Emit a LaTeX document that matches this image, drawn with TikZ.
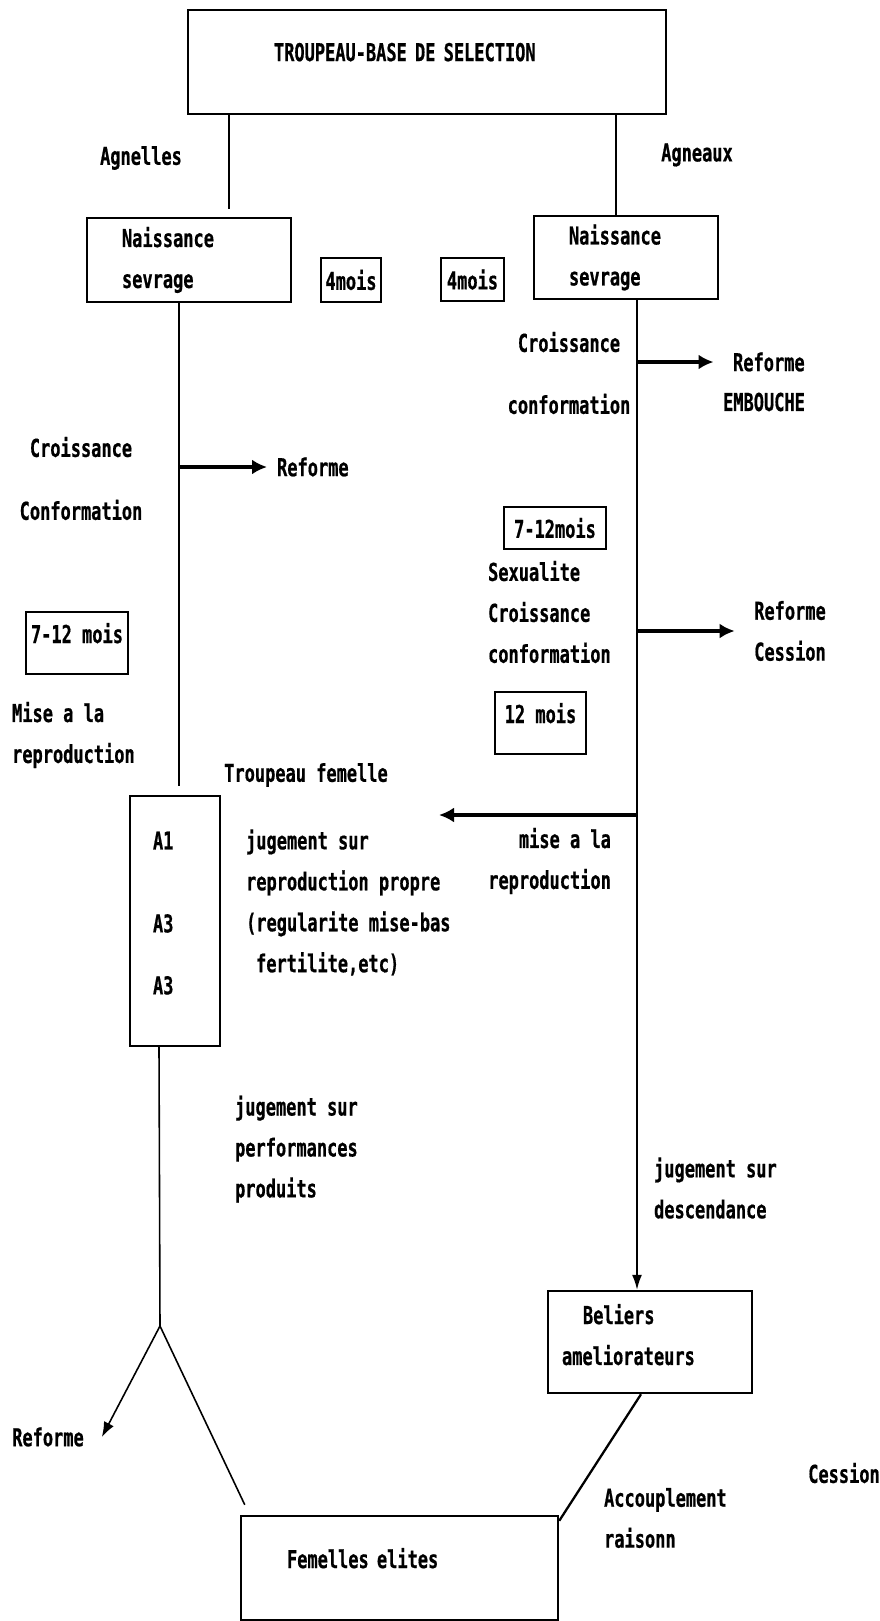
\documentclass[tikz,border=0pt]{standalone}
\usepackage{fontspec}
\newfontfamily\machine{DejaVu Sans Mono}[FakeStretch=0.69,FakeBold=0.6]
\usetikzlibrary{arrows.meta}

\begin{document}
\begin{tikzpicture}[>={Latex[length=0.3cm,width=0.3cm]},every node/.style={font=\machine\bfseries\fontsize{14pt}{23.3pt}\selectfont}]
  \tikzstyle{box}=[draw,line width=1.4pt,inner sep=0pt,align=left]
  \tikzstyle{txt}=[inner sep=1pt,align=left]
  \tikzstyle{lien}=[line width=0.9pt]
  \tikzstyle{fleche}=[line width=1.8pt,->]
  \useasboundingbox (0,0) rectangle (17.58,-32.42);
  \node[box,minimum width=9.56cm,minimum height=2.08cm,inner xsep=1.72cm,text width=6.12cm,text depth=0.4cm] (base) at (8.54,-1.24) {TROUPEAU-BASE DE SELECTION};
  \node[box,minimum width=4.08cm,minimum height=1.68cm,inner xsep=0.7cm,text width=2.68cm] (nl) at (3.78,-5.2) {Naissance\\sevrage};
  \node[box,minimum width=3.68cm,minimum height=1.66cm,inner xsep=0.7cm,text width=2.28cm] (nr) at (12.52,-5.15) {Naissance\\sevrage};
  \node[box,minimum width=1.2cm,minimum height=0.88cm,align=center] (q1) at (7.02,-5.6) {4mois};
  \node[box,minimum width=1.26cm,minimum height=0.86cm,align=center] (q2) at (9.45,-5.59) {4mois};
  \node[box,minimum width=2.04cm,minimum height=1.24cm,align=center,text depth=0.4cm] (sl1) at (1.54,-12.86) {7-12 mois};
  \node[box,minimum width=2.04cm,minimum height=0.84cm,align=center] (sr1) at (11.1,-10.56) {7-12mois};
  \node[box,minimum width=1.82cm,minimum height=1.24cm,align=center,text depth=0.4cm] (s12) at (10.81,-14.46) {12 mois};
  \node[box,minimum width=1.8cm,minimum height=5cm,inner xsep=0.46cm,text width=0.88cm,text depth=3.22cm] (trp) at (3.5,-18.42) {A1\\[0.84cm]A3\\[0.42cm]A3};
  \node[box,minimum width=4.08cm,minimum height=2.04cm,inner xsep=0.28cm,text width=3.52cm,text depth=1.12cm] (bel) at (13,-26.84) {\hspace*{0.42cm}Beliers\\ameliorateurs};
  \node[box,minimum width=6.34cm,minimum height=2.08cm,inner xsep=0.92cm,text width=4.5cm,text depth=0.4cm] (fem) at (7.99,-31.36) {Femelles elites};

  \node[txt] (agl) at (2.82,-3.16) {Agnelles};
  \node[txt] (agx) at (13.94,-3.1) {Agneaux};
  \node[txt,align=center] (crl) at (1.62,-9.57) {Croissance\\[0.44cm]Conformation};
  \node[txt,anchor=west] (rfl) at (5.5,-9.34) {Reforme};
  \node[txt,anchor=west] (mis) at (0.2,-14.7) {Mise a la\\reproduction};
  \node[txt] (trf) at (6.12,-15.5) {Troupeau femelle};
  \node[txt,anchor=west] (jrp) at (4.88,-18.05) {jugement sur\\reproduction propre\\(regularite mise-bas\\\hspace*{0.2cm}fertilite,etc)};
  \node[txt,anchor=west] (jpp) at (4.66,-22.98) {jugement sur\\performances\\produits};
  \node[txt,align=center] (crr) at (11.38,-7.46) {Croissance\\[0.42cm]conformation};
  \node[txt,anchor=west] (rf1) at (14.62,-7.24) {Reforme};
  \node[txt,anchor=west] (emb) at (14.42,-8.04) {EMBOUCHE};
  \node[txt,anchor=west] (sxc) at (9.72,-12.24) {Sexualite\\Croissance\\conformation};
  \node[txt,align=center] (rf2) at (15.8,-12.62) {Reforme\\Cession};
  \node[txt,anchor=east,align=right] (mal) at (12.26,-17.22) {mise a la\\reproduction};
  \node[txt,anchor=west] (jds) at (13.04,-23.76) {jugement sur\\descendance};
  \node[txt] (rf3) at (0.96,-28.74) {Reforme};
  \node[txt] (ces) at (16.88,-29.46) {Cession};
  \node[txt,anchor=west] (acc) at (12.04,-30.36) {Accouplement\\raisonn};

  \coordinate (gsp) at ([xshift=-0.2cm]nl.south);
  \coordinate (gbas) at ([yshift=0.18cm]trp.north);
  \coordinate (dsp) at ([xshift=0.22cm]nr.south);
  \coordinate (apex) at (3.2,-26.52);
  \coordinate (vers) at (8.78,-16.3);
  \draw[lien] ([xshift=0.8cm]nl.north |- base.south) -- ([xshift=0.8cm,yshift=0.16cm]nl.north);
  \draw[lien] ([xshift=-0.2cm]nr.north |- base.south) -- ([xshift=-0.2cm]nr.north);
  \draw[lien] (gsp) -- (gsp |- gbas);
  \draw[fleche,shorten >=0.16cm] (gsp |- rfl.west) -- (rfl.west);
  \draw[lien] ([xshift=-0.32cm]trp.south) -- (apex);
  \draw[lien,-{Latex[length=0.3cm,width=0.22cm]}] (apex) -- ([xshift=0.32cm]rf3.east);
  \draw[lien] (apex) -- ([xshift=0.1cm,yshift=0.2cm]fem.north west);
  \draw[lien,-{Latex[length=0.3cm,width=0.2cm]}] (dsp) -- (dsp |- bel.north);
  \draw[fleche,shorten >=0.35cm] (dsp |- rf1.west) -- (rf1.west);
  \draw[fleche,shorten >=0.35cm] (dsp |- rf2.west) -- (rf2.west);
  \draw[fleche] (dsp |- vers) -- (vers);
  \draw[lien,line width=1.3pt] ([xshift=-0.18cm]bel.south) -- ([yshift=-0.12cm]fem.north east);
\end{tikzpicture}
\end{document}
